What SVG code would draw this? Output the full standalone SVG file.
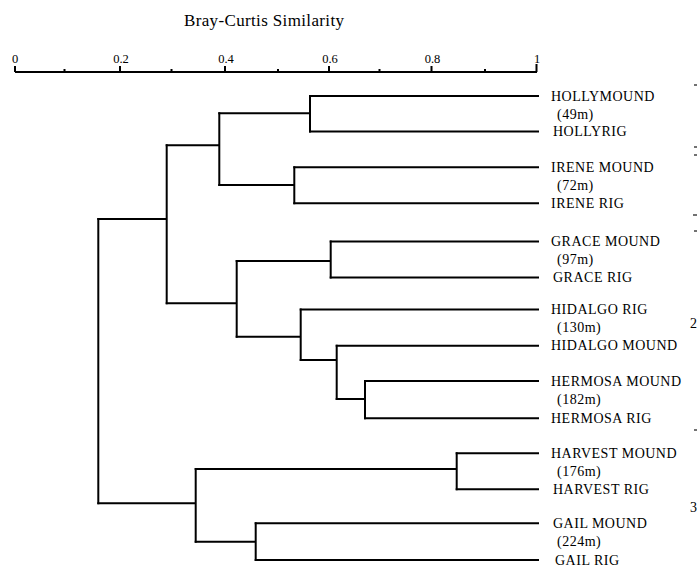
<svg xmlns="http://www.w3.org/2000/svg" width="697" height="570" viewBox="0 0 697 570">
<style>
.bg{fill:#fff}
.t{font-family:"Liberation Serif","Times New Roman",serif;fill:#000}
.title{font-size:17px}
.tick{font-size:12.5px}
.lab{font-size:14px;letter-spacing:0.5px}
.ln{stroke:#000;stroke-width:2;fill:none;stroke-linecap:square}
.ax{stroke:#000;stroke-width:2;fill:none}
.mk{stroke:#444;stroke-width:1.5}
</style>
<rect class="bg" x="0" y="0" width="697" height="570"/>
<g id="axis">
<text class="t title" x="264" y="26" text-anchor="middle" textLength="160" lengthAdjust="spacing">Bray-Curtis Similarity</text>
<line class="ax" x1="15" y1="72" x2="537" y2="72"/>
<path class="ax" d="M15,72V66 M120,72V66 M225,72V66 M329,72V66 M431.5,72V66 M536.5,72V64"/>
<path class="ax" d="M64.5,72V69 M171.5,72V69 M278,72V69 M379.5,72V69 M485,72V69"/>
<text class="t tick" x="15" y="63" text-anchor="middle">0</text>
<text class="t tick" x="121" y="63" text-anchor="middle">0.2</text>
<text class="t tick" x="226" y="63" text-anchor="middle">0.4</text>
<text class="t tick" x="330" y="63" text-anchor="middle">0.6</text>
<text class="t tick" x="432.5" y="63" text-anchor="middle">0.8</text>
<text class="t tick" x="537" y="63" text-anchor="middle">1</text>
</g>
<g id="connectors">
<path class="ln" d="M98.3,219V503.3"/>
<path class="ln" d="M98.3,219H166.7 M166.7,145.3V303.3"/>
<path class="ln" d="M166.7,145.3H219.3 M219.3,113.3V185"/>
<path class="ln" d="M219.3,113.3H310 M310,96V131.5"/>
<path class="ln" d="M219.3,185H294.3 M294.3,167.3V203.3"/>
<path class="ln" d="M166.7,303.3H236.7 M236.7,261V336.7"/>
<path class="ln" d="M236.7,261H330.7 M330.7,241.5V277.5"/>
<path class="ln" d="M236.7,336.7H300.7 M300.7,309.5V360"/>
<path class="ln" d="M300.7,360H336.7 M336.7,345.7V399"/>
<path class="ln" d="M336.7,399H365 M365,381V418.3"/>
<path class="ln" d="M98.3,503.3H195.7 M195.7,469V541.7"/>
<path class="ln" d="M195.7,469H456.7 M456.7,453.3V489.3"/>
<path class="ln" d="M195.7,541.7H255.7 M255.7,523.3V560"/>
<path class="ln" d="M310,96H538 M310,131.5H538"/>
<path class="ln" d="M294.3,167.3H538 M294.3,203.3H538"/>
<path class="ln" d="M330.7,241.5H538 M330.7,277.5H538"/>
<path class="ln" d="M300.7,309.5H538 M336.7,345.7H538"/>
<path class="ln" d="M365,381H538 M365,418.3H538"/>
<path class="ln" d="M456.7,453.3H538 M456.7,489.3H538"/>
<path class="ln" d="M255.7,523.3H538 M255.7,560H538"/>
</g>
<g id="holly">
<text class="t lab" x="551" y="100.5">HOLLYMOUND</text>
<text class="t lab" x="557" y="118.5">(49m)</text>
<text class="t lab" x="553" y="136">HOLLYRIG</text>
</g>
<g id="irene">
<text class="t lab" x="551" y="171.8">IRENE MOUND</text>
<text class="t lab" x="557" y="189.5">(72m)</text>
<text class="t lab" x="551" y="207.8">IRENE RIG</text>
</g>
<g id="grace">
<text class="t lab" x="551" y="246">GRACE MOUND</text>
<text class="t lab" x="557" y="264">(97m)</text>
<text class="t lab" x="553" y="282">GRACE RIG</text>
</g>
<g id="hidalgo">
<text class="t lab" x="551" y="314">HIDALGO RIG</text>
<text class="t lab" x="557" y="332">(130m)</text>
<text class="t lab" x="551" y="350.2">HIDALGO MOUND</text>
</g>
<g id="hermosa">
<text class="t lab" x="551" y="385.5">HERMOSA MOUND</text>
<text class="t lab" x="557" y="404">(182m)</text>
<text class="t lab" x="551" y="422.8">HERMOSA RIG</text>
</g>
<g id="harvest">
<text class="t lab" x="551" y="457.8">HARVEST MOUND</text>
<text class="t lab" x="557" y="475.5">(176m)</text>
<text class="t lab" x="553" y="493.8">HARVEST RIG</text>
</g>
<g id="gail">
<text class="t lab" x="553" y="527.8">GAIL MOUND</text>
<text class="t lab" x="557" y="546">(224m)</text>
<text class="t lab" x="555" y="564.5">GAIL RIG</text>
</g>
<g id="edge">
<text class="t lab" x="690" y="328">2</text>
<text class="t lab" x="690" y="512">3</text>
<path class="mk" d="M694,85H697 M694,147H697 M694,155H697 M693,215H697 M694,231H697 M694,430H697"/>
</g>
</svg>
